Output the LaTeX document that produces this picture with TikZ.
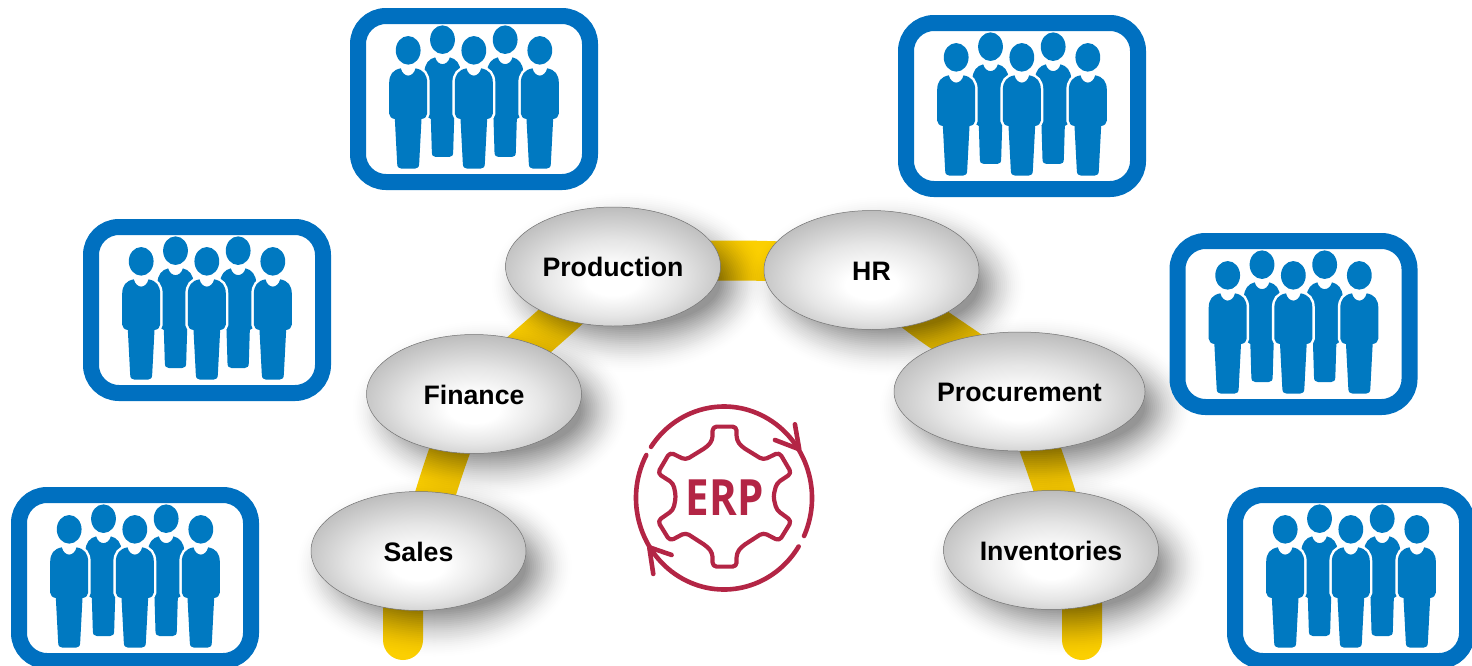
\documentclass[tikz,border=0pt]{standalone}
\usepackage{fontspec}
\setmainfont{Liberation Sans}
\newfontfamily\erpfont{Open Sans}
\usetikzlibrary{shapes.geometric,calc}
\pgfdeclarelayer{ribbonlayer}
\pgfdeclarelayer{shadelayer}
\pgfsetlayers{ribbonlayer,shadelayer,main}
\definecolor{framecol}{HTML}{0070C0}
\definecolor{peoplecol}{HTML}{0079C1}
\definecolor{goldcol}{HTML}{FBCF02}
\definecolor{erpcol}{HTML}{B32545}
\pgfdeclareradialshading{ballshade}{\pgfpoint{0bp}{-7bp}}{
  color(0bp)=(white); color(6bp)=(white); color(16bp)=(black!10); color(28bp)=(black!26); color(40bp)=(black!40); color(50bp)=(black!50)}
\tikzset{
  ball/.style={ellipse,draw=black!55,line width=.5pt,shading=ballshade,minimum width=215pt,minimum height=119pt,inner sep=0pt,
    font=\bfseries\fontsize{26.7}{30}\selectfont,text height=20.5pt,text depth=0pt},
  frame/.style={rectangle,draw=framecol,line width=16pt,rounded corners=28pt,minimum width=232pt,minimum height=166pt,inner sep=0pt,outer sep=0pt},
  ribbon/.style={draw=goldcol,line width=40pt,line cap=round},
  gearline/.style={draw=erpcol,line width=4.2pt,line cap=round,line join=round},
  ringline/.style={draw=erpcol,line width=4.6pt,line cap=round,line join=round},
  pics/team/.style={code={
    \begin{scope}[x=0.3333pt,y=-0.3333pt,shift={(-402.5,-296)}]
      \foreach \c in {308,496}{
        \begin{scope}[shift={(\c,0)}]
          \fill[peoplecol] (0,118) ellipse [x radius=12.4pt,y radius=14.3pt];
          \fill[peoplecol] (-22,171) .. controls (-15,198) and (15,198) .. (22,171)
            .. controls (40,175) and (54,190) .. (54,215) -- (54,320)
            .. controls (54,340) and (48,350) .. (35,356) -- (32,455)
            .. controls (32,465) and (28,470) .. (20,470) -- (-20,470)
            .. controls (-28,470) and (-32,465) .. (-32,455) -- (-35,356)
            .. controls (-48,350) and (-54,340) .. (-54,320) -- (-54,215)
            .. controls (-54,190) and (-40,175) .. (-22,171) -- cycle;
        \end{scope}}
      \foreach \c in {205,402,600}{
        \begin{scope}[shift={(\c,0)}]
          \fill[peoplecol] (0,150) ellipse [x radius=12.4pt,y radius=14.3pt];
          \path[fill=peoplecol,preaction={draw=white,line width=5pt}]
            (-22,204) .. controls (-15,233) and (15,233) .. (22,204)
            .. controls (45,208) and (57,222) .. (57,248) -- (57,340)
            .. controls (57,348) and (50,355) .. (40,356) -- (33,490)
            .. controls (33,500) and (28,505) .. (20,505) -- (-20,505)
            .. controls (-28,505) and (-33,500) .. (-33,490) -- (-40,356)
            .. controls (-50,355) and (-57,348) .. (-57,340) -- (-57,248)
            .. controls (-57,222) and (-45,208) .. (-22,204) -- cycle;
        \end{scope}}
    \end{scope}}}
}
\newcommand{\blurunder}[3]{%
  \foreach \g in {30,28,...,-16}{
    \pgfmathsetmacro{\op}{0.003+0.038*(30-\g)/46}
    \fill[black,opacity=\op] ($(#1)+(16,16)$) ellipse [x radius=#2pt+\g pt,y radius=#3pt+\g pt];}}
\begin{document}
\begin{tikzpicture}[x=1pt,y=-1pt]
\useasboundingbox (0,0) rectangle (1472,665);
\clip (0,0) rectangle (1472,665);

% teams
\node[frame] (f1) at (474,99) {};
\node[frame] (f2) at (1022,106) {};
\node[frame] (f3) at (207,310) {};
\node[frame] (f4) at (1293.5,324) {};
\node[frame] (f5) at (135,578) {};
\node[frame] (f6) at (1351,578) {};
\foreach \n in {f1,f2,f3,f4,f5,f6} \pic at (\n.center) {team};

% departments
\node[ball] (sales) at (418.5,551) {Sales};
\node[ball] (finance) at (474,394) {Finance};
\node[ball] (production) at (613,266.5) {Production};
\node[ball] (hr) at (871.5,270) {HR};
\node[ball,minimum width=251pt] (procurement) at (1019.5,391.5) {Procurement};
\node[ball] (inventories) at (1051,550) {Inventories};

\coordinate (tailL) at (403,640);
\coordinate (tailR) at (1082,640);

\begin{pgfonlayer}{ribbonlayer}
  \draw[ribbon] (tailL) -- (403,600) -- (sales.center);
  \draw[ribbon] (sales.center) .. controls (435,495) and (450,440) .. (finance.center);
  \draw[ribbon] (finance.center) .. controls (515,355) and (570,312) .. (production.center);
  \draw[ribbon] (production.center) .. controls (690,258) and (800,258) .. (hr.center);
  \draw[ribbon] (hr.center) .. controls (915,325) and (975,345) .. (procurement.center);
  \draw[ribbon] (procurement.center) .. controls (1032,430) and (1058,490) .. ($(inventories.center)+(19,0)$) -- (1082,600) -- (tailR);
\end{pgfonlayer}

\begin{pgfonlayer}{shadelayer}
  \blurunder{sales}{107.5}{59.5}
  \blurunder{finance}{107.5}{59.5}
  \blurunder{production}{107.5}{59.5}
  \blurunder{hr}{107.5}{59.5}
  \blurunder{procurement}{125.5}{59.5}
  \blurunder{inventories}{107.5}{59.5}
\end{pgfonlayer}

% ERP icon
\begin{scope}[shift={(724,498)}]
  \draw[ringline] (208:88 and 91.5) arc[start angle=208,end angle=32,x radius=88,y radius=91.5];
  \draw[ringline] (24.5:88 and 91.5) arc[start angle=24.5,end angle=-146,x radius=88,y radius=91.5];
\end{scope}
\begin{scope}[x=0.3333pt,y=-0.3333pt,shift={(1860,1185)}]
  \draw[ringline] (525,88) -- (538,163) -- (465,135);
  \draw[ringline] (100,537) -- (88,457) -- (155,480);
  \draw[gearline,rounded corners=4pt] (278,95) -- (350,95) -- (350,135) -- (365,155) -- (430,195) -- (478,172)
    -- (515,235) -- (470,265) -- (460,305) -- (470,345) -- (515,378) -- (478,438) -- (430,413)
    -- (365,455) -- (350,475) -- (350,515) -- (278,515) -- (278,475) -- (262,455) -- (197,413)
    -- (150,438) -- (113,378) -- (160,345) -- (168,305) -- (160,265) -- (113,235) -- (150,172)
    -- (197,195) -- (262,155) -- (278,135) -- cycle;
  \node[text=erpcol,font=\erpfont\bfseries\fontsize{50}{56}\selectfont,inner sep=0pt,xscale=.84,transform shape] (erp) at (314,308) {ERP};
\end{scope}
\end{tikzpicture}
\end{document}
